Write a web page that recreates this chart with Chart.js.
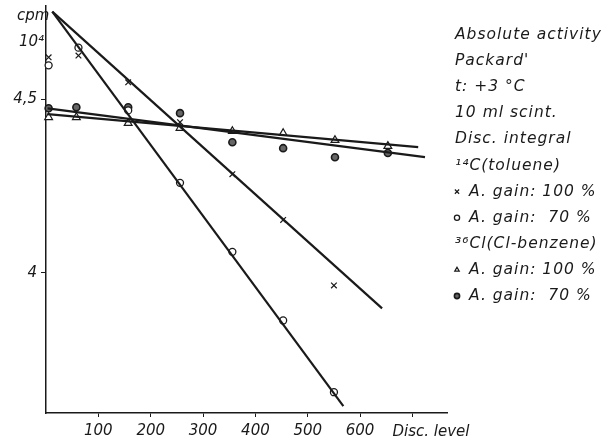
<!DOCTYPE html>
<html>
<head>
<meta charset="utf-8">
<script src="https://cdn.jsdelivr.net/npm/chart.js@4.4.0/dist/chart.umd.min.js"></script>
<style>
  html, body { margin: 0; padding: 0; background: #fff; }
  #wrap { width: 611px; height: 444px; position: relative; }
</style>
</head>
<body>
<div id="wrap"><canvas id="discChart"></canvas></div>
<script>
// measured counts (log cpm) against discriminator level
const discC14 = [5, 62, 157, 256, 356, 453, 550];
const c14Gain100 = [4.621, 4.626, 4.549, 4.434, 4.284, 4.152, 3.963];
const c14Gain70 = [4.598, 4.649, 4.468, 4.259, 4.060, 3.862, 3.655];
const discCl36 = [5, 58, 157, 256, 356, 453, 552, 653];
const cl36Gain100 = [4.448, 4.448, 4.431, 4.417, 4.408, 4.402, 4.382, 4.365];
const cl36Gain70 = [4.474, 4.477, 4.477, 4.460, 4.376, 4.359, 4.333, 4.345];

// hand-fitted lines: [disc, value] at each end
const fitC14Gain100 = [[12, 4.753], [642, 3.897]];
const fitC14Gain70 = [[12, 4.753], [568, 3.615]];
const fitCl36Gain100 = [[3, 4.457], [711, 4.362]];
const fitCl36Gain70 = [[3, 4.474], [724, 4.333]];

const xTicks = [100, 200, 300, 400, 500, 600, 700];
const yTicks = [4, 4.5];
const yTickLabels = { 4: "4", 4.5: "4,5" };

const notes = [
  { text: "Absolute activity" },
  { text: "Packard'" },
  { text: "t: +3 °C" },
  { text: "10 ml scint." },
  { text: "Disc. integral" },
  { text: "¹⁴C(toluene)" },
  { text: "A. gain: 100 %", mark: "x" },
  { text: "A. gain:  70 %", mark: "o" },
  { text: "³⁶Cl(Cl-benzene)" },
  { text: "A. gain: 100 %", mark: "tri" },
  { text: "A. gain:  70 %", mark: "dot" }
];

const ink = "#1a1a1a";
const FONT = "'DejaVu Sans', sans-serif";

const toPts = (xs, ys) => xs.map((x, i) => ({ x: x, y: ys[i] }));
const toLine = (pair) => pair.map((p) => ({ x: p[0], y: p[1] }));

const fitLine = (pair) => ({
  data: toLine(pair),
  showLine: true,
  borderColor: ink,
  borderWidth: 2.2,
  pointRadius: 0,
  clip: false
});

const markers = {
  x: { pointStyle: "crossRot", radius: 4, bg: "#fff", border: ink, width: 1.2 },
  o: { pointStyle: "circle", radius: 3.5, bg: "#fff", border: ink, width: 1.3 },
  tri: { pointStyle: "triangle", radius: 4.5, bg: "#fff", border: ink, width: 1.2 },
  dot: { pointStyle: "circle", radius: 3.5, bg: "#666", border: ink, width: 1.6 }
};

const markSet = (pts, m) => ({
  data: pts,
  showLine: false,
  pointStyle: markers[m].pointStyle,
  pointRadius: markers[m].radius,
  pointBackgroundColor: markers[m].bg,
  pointBorderColor: markers[m].border,
  pointBorderWidth: markers[m].width,
  clip: false
});

// free text: axis caption, x title and the key at the right
const textPlugin = {
  id: "notes",
  afterDraw(chart) {
    const ctx = chart.ctx;
    const xs = chart.scales.x;
    ctx.save();
    ctx.fillStyle = ink;
    ctx.textBaseline = "middle";
    ctx.textAlign = "left";
    ctx.font = "italic 15px " + FONT;
    ctx.fillText("cpm", 17, 16);
    ctx.fillText("10⁴", 19, 42);
    ctx.fillText("Disc. level", xs.getPixelForValue(700) - 20, 432);

    ctx.font = "italic 15.5px " + FONT;
    ctx.letterSpacing = "1px";
    const left = 455;
    let y = 35;
    notes.forEach((n) => {
      if (n.mark) {
        const m = markers[n.mark];
        ctx.fillStyle = m.bg;
        ctx.strokeStyle = m.border;
        ctx.lineWidth = m.width;
        Chart.helpers.drawPoint(ctx, {
          pointStyle: m.pointStyle,
          radius: n.mark === "x" ? 3 : 2.6,
          borderWidth: m.width
        }, left + 2, y);
        ctx.fillStyle = ink;
        ctx.fillText(n.text, left + 14, y);
      } else {
        ctx.fillText(n.text, left, y);
      }
      y += 26.1;
    });
    ctx.restore();
  }
};

new Chart(document.getElementById("discChart"), {
  type: "scatter",
  data: {
    datasets: [
      fitLine(fitC14Gain100),
      fitLine(fitC14Gain70),
      fitLine(fitCl36Gain100),
      fitLine(fitCl36Gain70),
      markSet(toPts(discC14, c14Gain100), "x"),
      markSet(toPts(discC14, c14Gain70), "o"),
      markSet(toPts(discCl36, cl36Gain100), "tri"),
      markSet(toPts(discCl36, cl36Gain70), "dot")
    ]
  },
  options: {
    responsive: true,
    maintainAspectRatio: false,
    animation: false,
    layout: { padding: { top: 5, right: 164, left: 0, bottom: 0 } },
    plugins: { legend: { display: false }, tooltip: { enabled: false } },
    scales: {
      x: {
        type: "linear",
        min: 0,
        max: 766,
        afterBuildTicks: (s) => { s.ticks = xTicks.map((v) => ({ value: v })); },
        afterFit: (s) => { s.height = 31; s.paddingLeft = 0; s.paddingRight = 0; },
        border: { color: ink, width: 1.5 },
        grid: { drawOnChartArea: false, color: ink, tickLength: 4 },
        ticks: {
          color: ink,
          padding: 5,
          maxRotation: 0,
          font: { family: FONT, style: "italic", size: 15 },
          callback: (v) => (v === 700 ? "" : String(v))
        }
      },
      y: {
        type: "linear",
        min: 3.595,
        max: 4.77,
        afterBuildTicks: (s) => { s.ticks = yTicks.map((v) => ({ value: v })); },
        afterFit: (s) => { s.width = 46; s.paddingTop = 0; s.paddingBottom = 0; },
        border: { color: ink, width: 1.5 },
        grid: { drawOnChartArea: false, color: ink, tickLength: 5 },
        ticks: {
          color: ink,
          padding: 4,
          font: { family: FONT, style: "italic", size: 15 },
          callback: (v) => yTickLabels[v]
        }
      }
    }
  },
  plugins: [textPlugin]
});
</script>
</body>
</html>
